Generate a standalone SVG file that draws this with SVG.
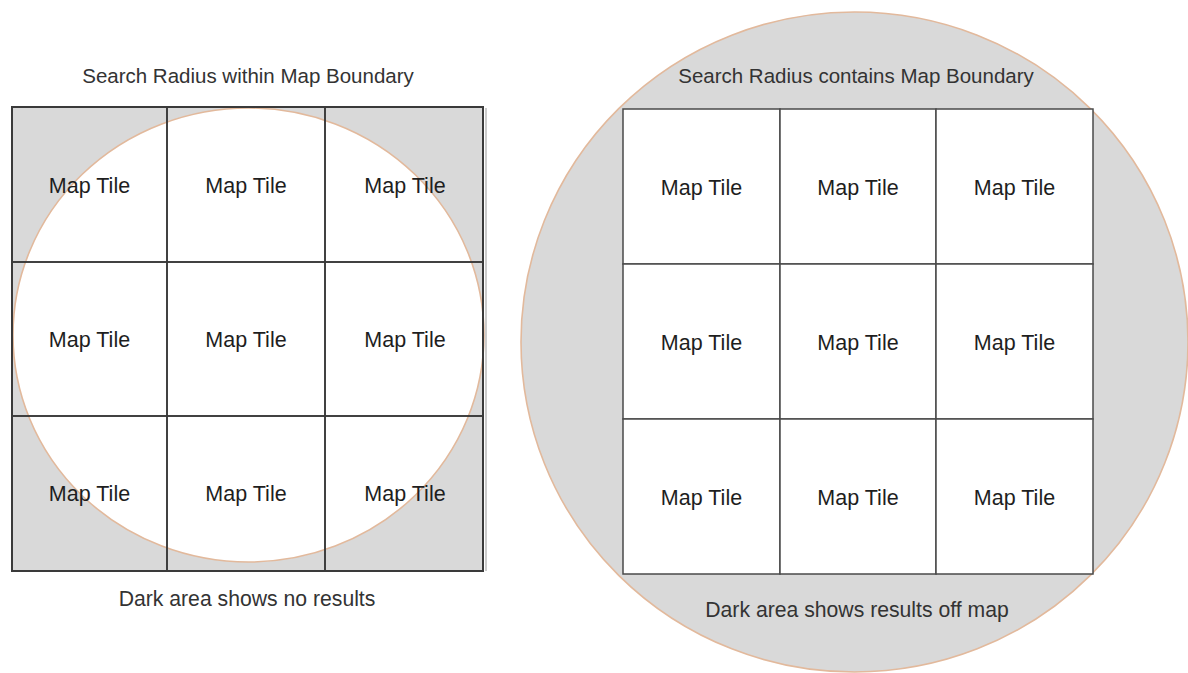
<svg xmlns="http://www.w3.org/2000/svg" width="1188" height="673" viewBox="0 0 1188 673">
<style>
.lbl{font-family:"Liberation Sans",Arial,sans-serif;font-size:20.5px;fill:#333;text-anchor:middle}
.note{font-family:"Liberation Sans",Arial,sans-serif;font-size:21.2px;fill:#333;text-anchor:middle}
.tile{font-family:"Liberation Sans",Arial,sans-serif;font-size:21.5px;fill:#1e1e1e;text-anchor:middle}
.cell{fill:none;stroke:#3a3a3a;stroke-width:1.6}
.rcell{fill:#fff;stroke:#4a4a4a;stroke-width:1.5}
.radius{stroke:#e2b99c;stroke-width:1.6}
</style>
<rect width="1188" height="673" fill="#fff"/>

<!-- Left diagram -->
<g id="left-diagram">
  <rect x="12" y="107" width="471" height="464" fill="#d9d9d9"/>
  <ellipse id="left-radius" class="radius" cx="248.5" cy="335" rx="235.5" ry="227" fill="#fff"/>
  <g id="left-tiles">
    <g id="L11"><rect class="cell" x="12" y="107" width="155" height="155"/><text class="tile" x="89.5" y="193">Map Tile</text></g>
    <g id="L12"><rect class="cell" x="167" y="107" width="158" height="155"/><text class="tile" x="246" y="193">Map Tile</text></g>
    <g id="L13"><rect class="cell" x="325" y="107" width="158" height="155"/><text class="tile" x="405" y="193">Map Tile</text></g>
    <g id="L21"><rect class="cell" x="12" y="262" width="155" height="154"/><text class="tile" x="89.5" y="347">Map Tile</text></g>
    <g id="L22"><rect class="cell" x="167" y="262" width="158" height="154"/><text class="tile" x="246" y="347">Map Tile</text></g>
    <g id="L23"><rect class="cell" x="325" y="262" width="158" height="154"/><text class="tile" x="405" y="347">Map Tile</text></g>
    <g id="L31"><rect class="cell" x="12" y="416" width="155" height="155"/><text class="tile" x="89.5" y="501">Map Tile</text></g>
    <g id="L32"><rect class="cell" x="167" y="416" width="158" height="155"/><text class="tile" x="246" y="501">Map Tile</text></g>
    <g id="L33"><rect class="cell" x="325" y="416" width="158" height="155"/><text class="tile" x="405" y="501">Map Tile</text></g>
  </g>
  <line x1="486" y1="108" x2="486" y2="571" stroke="#999" stroke-width="1"/>
  <rect x="12" y="107" width="471" height="464" fill="none" stroke="#3a3a3a" stroke-width="2"/>
  <text id="left-title" class="lbl" x="248" y="83">Search Radius within Map Boundary</text>
  <text id="left-note" class="note" x="247" y="606">Dark area shows no results</text>
</g>

<!-- Right diagram -->
<g id="right-diagram">
  <ellipse id="right-radius" class="radius" cx="854.5" cy="342" rx="333.5" ry="330" fill="#d9d9d9"/>
  <g id="right-tiles">
    <g id="R11"><rect class="rcell" x="623" y="109" width="157" height="155"/><text class="tile" x="701.5" y="195">Map Tile</text></g>
    <g id="R12"><rect class="rcell" x="780" y="109" width="156" height="155"/><text class="tile" x="858" y="195">Map Tile</text></g>
    <g id="R13"><rect class="rcell" x="936" y="109" width="157" height="155"/><text class="tile" x="1014.5" y="195">Map Tile</text></g>
    <g id="R21"><rect class="rcell" x="623" y="264" width="157" height="155"/><text class="tile" x="701.5" y="350">Map Tile</text></g>
    <g id="R22"><rect class="rcell" x="780" y="264" width="156" height="155"/><text class="tile" x="858" y="350">Map Tile</text></g>
    <g id="R23"><rect class="rcell" x="936" y="264" width="157" height="155"/><text class="tile" x="1014.5" y="350">Map Tile</text></g>
    <g id="R31"><rect class="rcell" x="623" y="419" width="157" height="155"/><text class="tile" x="701.5" y="505">Map Tile</text></g>
    <g id="R32"><rect class="rcell" x="780" y="419" width="156" height="155"/><text class="tile" x="858" y="505">Map Tile</text></g>
    <g id="R33"><rect class="rcell" x="936" y="419" width="157" height="155"/><text class="tile" x="1014.5" y="505">Map Tile</text></g>
  </g>
  <text id="right-title" class="lbl" x="856" y="83">Search Radius contains Map Boundary</text>
  <text id="right-note" class="note" x="857" y="617">Dark area shows results off map</text>
</g>

<g id="connectors"/>
</svg>
